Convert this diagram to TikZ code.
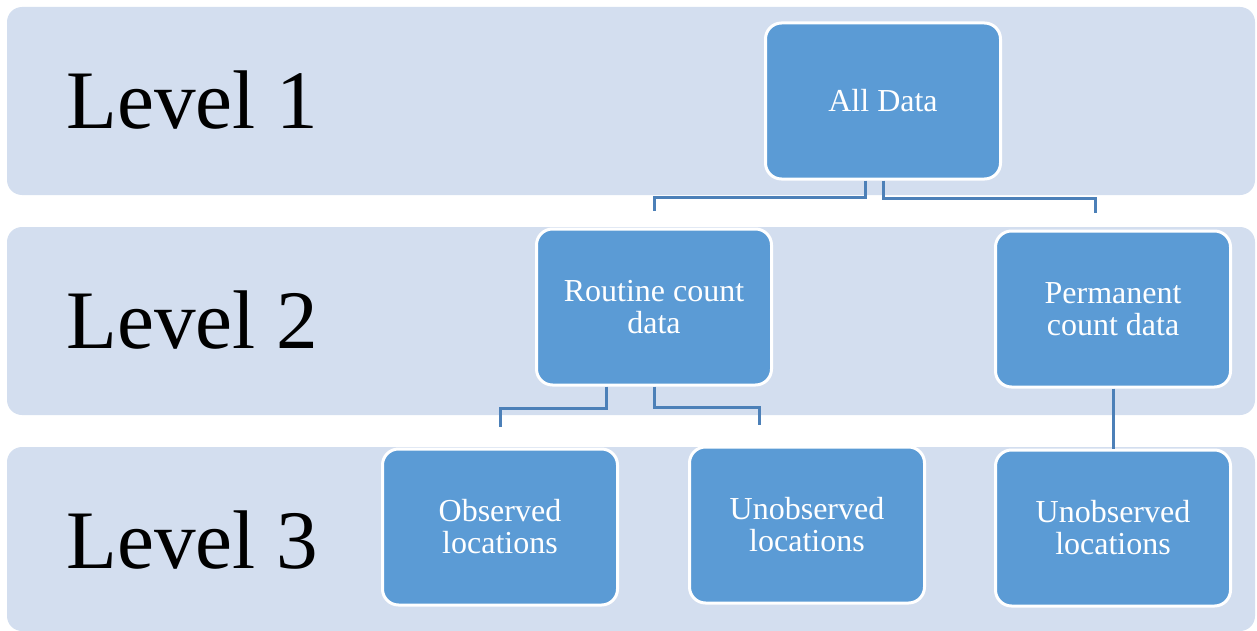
\documentclass[tikz,border=0pt]{standalone}
\usepackage{fontspec}
\setmainfont{Liberation Serif}
\usetikzlibrary{positioning,calc}
\definecolor{bandfill}{HTML}{D3DEEF}
\definecolor{boxfill}{HTML}{5B9BD5}
\definecolor{linkcol}{HTML}{4C80B8}

\tikzset{
  band/.style={fill=bandfill, rounded corners=7.5pt},
  level/.style={anchor=base west, inner sep=0pt, font=\fontsize{41.6}{42}\selectfont},
  box/.style={draw=white, line width=1.5pt, fill=boxfill, rounded corners=8pt,
    minimum width=117.5pt, minimum height=78pt, align=center, text=white,
    font=\fontsize{16}{16}\selectfont},
  link/.style={draw=linkcol, line width=1.5pt}
}

\begin{document}
\begin{tikzpicture}[x=0.5pt, y=-0.5pt]
  \useasboundingbox (0,0) rectangle (1257,631);
  % Level bands
  \fill[band] (7,7) rectangle (1255,195);
  \fill[band] (7,227) rectangle (1255,415);
  \fill[band] (7,447) rectangle (1255,631);
  \node[level] (lev1) at (66,128) {Level 1};
  \node[level] (lev2) at (66,348) {Level 2};
  \node[level] (lev3) at (66,568) {Level 3};
  % Define boxes
  \node[box] (all) at (883,101) {All Data};
  \node[box] (routine) at (654,307) {Routine count\\data};
  \node[box] (perm) at (1113,309) {Permanent\\count data};
  \node[box] (obs) at (500,527) {Observed\\locations};
  \node[box] (unobA) at (807,525) {Unobserved\\locations};
  \node[box, below=30pt of perm] (unobB) {Unobserved\\locations};
  % Loose ends of the connectors
  \coordinate (routineEnd) at ($(routine.north)+(0,-17)$);
  \coordinate (permEnd) at ($(perm.north)+(-18,-17)$);
  \coordinate (obsEnd) at ($(obs.north)+(0,-21)$);
  \coordinate (unobAEnd) at ($(unobA.north)+(-48,-21)$);
  % Define connectors
  \draw[link] ([xshift=-9pt]all.south) -- ++(0,17) -| (routineEnd);
  \draw[link] (all.south) -- ++(0,18) -| (permEnd);
  \draw[link] ([xshift=-24pt]routine.south) -- ++(0,22) -| (obsEnd);
  \draw[link] (routine.south) -- ++(0,21) -| (unobAEnd);
  \draw[link] (perm.south) -- (unobB.north);
\end{tikzpicture}
\end{document}
